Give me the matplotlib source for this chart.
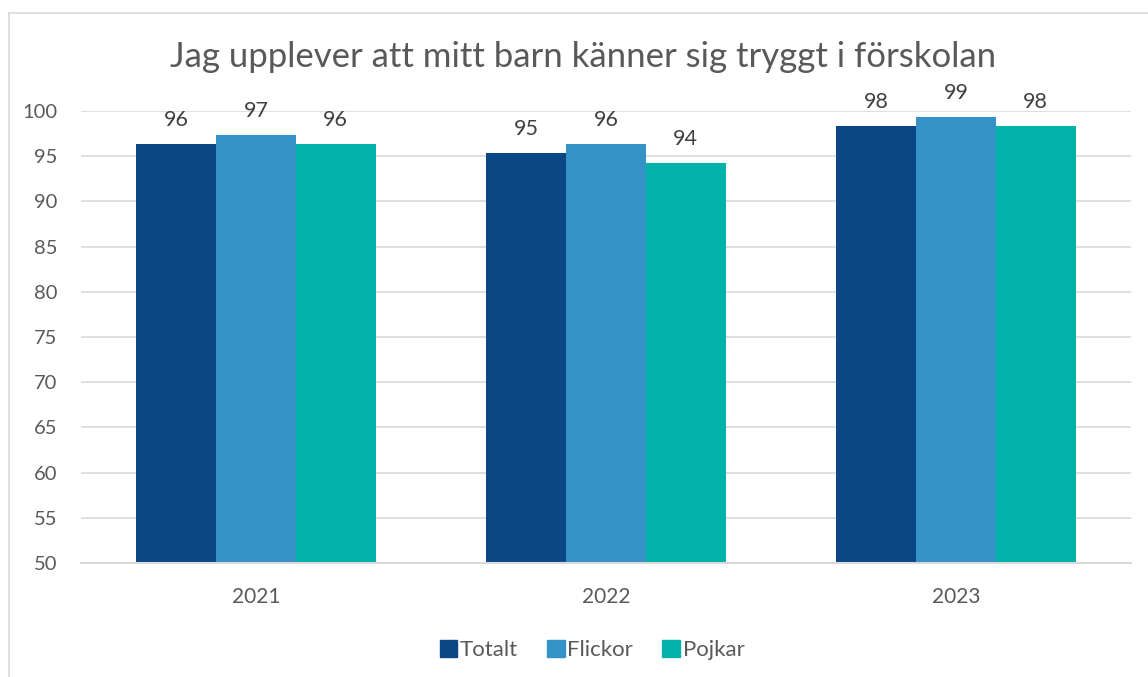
import matplotlib
matplotlib.use("Agg")
import matplotlib.pyplot as plt
import numpy as np
from matplotlib.lines import Line2D

years = ["2021", "2022", "2023"]
series = ["Totalt", "Flickor", "Pojkar"]
totalt = [96.3, 95.3, 98.3]
flickor = [97.3, 96.3, 99.3]
pojkar = [96.3, 94.3, 98.3]
yticks = [50, 55, 60, 65, 70, 75, 80, 85, 90, 95, 100]
colors = ["#0B4784", "#3592C6", "#00B2AA"]
title = "Jag upplever att mitt barn känner sig tryggt i förskolan"

plt.rcParams['font.family'] = ['Lato', 'DejaVu Sans']
W, H = 1148, 677
fig = plt.figure(figsize=(W / 100, H / 100), dpi=100)
ax = fig.add_axes([81 / W, 1 - 563 / H, (1131 - 81) / W, (563 - 111) / H])

x = np.arange(len(years))
bw = 0.228
text_c = "#595959"
for i, (vals, c, name) in enumerate(zip([totalt, flickor, pojkar], colors, series)):
    pos = x + (i - 1) * bw
    ax.bar(pos, vals, width=bw, color=c, label=name, zorder=3)
    for p, v in zip(pos, vals):
        ax.text(p, v + 1.55, f"{round(v):d}", ha="center", va="bottom",
                fontsize=15.5, color="#404040")

ax.set_xlim(-0.5, len(years) - 0.5)
ax.set_ylim(50, 100)
ax.set_yticks(yticks)
ax.set_xticks(x)
ax.set_xticklabels(years)
ax.tick_params(axis="y", length=0, labelsize=14.5, labelcolor=text_c, pad=17)
ax.tick_params(axis="x", length=0, labelsize=15, labelcolor=text_c, pad=17)
ax.grid(axis="y", color="#D9D9D9", linewidth=1.2, zorder=0)
for s in ["left", "right", "top"]:
    ax.spines[s].set_visible(False)
ax.spines["bottom"].set_color("#D9D9D9")
ax.spines["bottom"].set_linewidth(1.5)
ax.spines["bottom"].set_zorder(4)

fig.text(583 / W, 1 - 57 / H, title, ha="center", va="center",
         fontsize=25, color=text_c)

handles = [plt.Rectangle((0, 0), 1, 1, color=c) for c in colors]
leg = fig.legend(handles, series, loc="center", bbox_to_anchor=(592 / W, 1 - 650 / H),
                 ncol=3, frameon=False, fontsize=16, handlelength=0.8,
                 handleheight=0.8, handletextpad=0.12, columnspacing=1.3)
for t in leg.get_texts():
    t.set_color(text_c)

# outer chart border (left and top)
fig.add_artist(Line2D([8.5 / W, 8.5 / W], [0, 1 - 12.5 / H], transform=fig.transFigure,
                      color="#D9D9D9", linewidth=1.2))
fig.add_artist(Line2D([8.5 / W, 1], [1 - 12.5 / H, 1 - 12.5 / H], transform=fig.transFigure,
                      color="#D9D9D9", linewidth=1.2))

fig.savefig("out.png", dpi=100)
